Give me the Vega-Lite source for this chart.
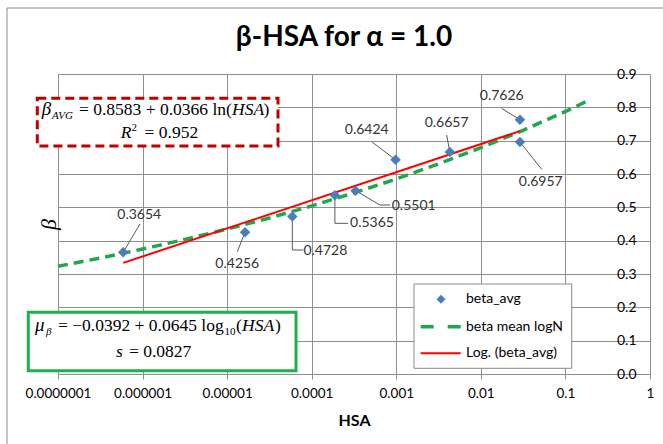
{
  "$schema": "https://vega.github.io/schema/vega-lite/v6.json",
  "width": 592,
  "height": 300,
  "autosize": "none",
  "padding": {"left": 58, "top": 74, "right": 13, "bottom": 70},
  "background": "white",
  "title": {"text": "β-HSA for α = 1.0", "font": "Lato", "fontSize": 28, "fontWeight": "bold", "color": "#000000", "anchor": "middle", "frame": "group", "dx": -10, "baseline": "alphabetic", "offset": -66.5},
  "config": {"view": {"stroke": null}},
  "datasets": {
    "points": [
      {"hsa": 5.9e-7, "beta": 0.3654, "label": "0.3654"},
      {"hsa": 1.63e-5, "beta": 0.4256, "label": "0.4256"},
      {"hsa": 5.9e-5, "beta": 0.4728, "label": "0.4728"},
      {"hsa": 1.88e-4, "beta": 0.5365, "label": "0.5365"},
      {"hsa": 3.3e-4, "beta": 0.5501, "label": "0.5501"},
      {"hsa": 9.8e-4, "beta": 0.6424, "label": "0.6424"},
      {"hsa": 4.3e-3, "beta": 0.6657, "label": "0.6657"},
      {"hsa": 0.029, "beta": 0.7626, "label": "0.7626"},
      {"hsa": 0.029, "beta": 0.6957, "label": "0.6957"}
    ],
    "labels": [
      {"hsa": 9.14e-7, "beta": 0.477, "label": "0.3654"},
      {"hsa": 1.318e-5, "beta": 0.329, "label": "0.4256"},
      {"hsa": 1.45e-4, "beta": 0.369, "label": "0.4728"},
      {"hsa": 5.16e-4, "beta": 0.452, "label": "0.5365"},
      {"hsa": 1.606e-3, "beta": 0.505, "label": "0.5501"},
      {"hsa": 4.47e-4, "beta": 0.732, "label": "0.6424"},
      {"hsa": 3.94e-3, "beta": 0.752, "label": "0.6657"},
      {"hsa": 0.01766, "beta": 0.834, "label": "0.7626"},
      {"hsa": 0.0511, "beta": 0.577, "label": "0.6957"}
    ],
    "leaders": [
      {"hsa": 5.9e-7, "beta": 0.3654, "hsa2": 9.33e-7, "beta2": 0.45},
      {"hsa": 1.63e-5, "beta": 0.4256, "hsa2": 1.318e-5, "beta2": 0.367},
      {"hsa": 5.9e-5, "beta": 0.4728, "hsa2": 5.9e-5, "beta2": 0.372},
      {"hsa": 5.9e-5, "beta": 0.372, "hsa2": 7.96e-5, "beta2": 0.372},
      {"hsa": 1.88e-4, "beta": 0.5365, "hsa2": 1.88e-4, "beta2": 0.452},
      {"hsa": 1.88e-4, "beta": 0.452, "hsa2": 2.69e-4, "beta2": 0.452},
      {"hsa": 3.3e-4, "beta": 0.5501, "hsa2": 6.41e-4, "beta2": 0.507},
      {"hsa": 6.41e-4, "beta": 0.507, "hsa2": 8.43e-4, "beta2": 0.507},
      {"hsa": 9.8e-4, "beta": 0.6424, "hsa2": 5.12e-4, "beta2": 0.697},
      {"hsa": 4.3e-3, "beta": 0.6657, "hsa2": 3.94e-3, "beta2": 0.717},
      {"hsa": 0.029, "beta": 0.7626, "hsa2": 0.01766, "beta2": 0.797},
      {"hsa": 0.029, "beta": 0.6957, "hsa2": 0.0525, "beta2": 0.614}
    ],
    "mean": [
      {"hsa": 1e-7, "beta": 0.3231},
      {"hsa": 3.162e-7, "beta": 0.348},
      {"hsa": 1e-6, "beta": 0.3748},
      {"hsa": 3.162e-6, "beta": 0.4037},
      {"hsa": 1e-5, "beta": 0.4349},
      {"hsa": 3.162e-5, "beta": 0.4682},
      {"hsa": 1e-4, "beta": 0.5044},
      {"hsa": 3.162e-4, "beta": 0.5432},
      {"hsa": 1e-3, "beta": 0.5852},
      {"hsa": 3.162e-3, "beta": 0.6303},
      {"hsa": 1e-2, "beta": 0.6789},
      {"hsa": 3.162e-2, "beta": 0.7312},
      {"hsa": 0.1, "beta": 0.7876},
      {"hsa": 0.2, "beta": 0.8241}
    ],
    "trend": [
      {"hsa": 5.9e-7, "beta": 0.3333},
      {"hsa": 0.029, "beta": 0.7287}
    ],
    "frame": [{"hsa": 2.494e-8, "beta": 1.098, "hsa2": 10, "beta2": -0.4}],
    "redbox": [{"hsa": 5.69e-8, "beta": 0.8271, "hsa2": 3.994e-5, "beta2": 0.684}],
    "greenbox": [{"hsa": 4.455e-8, "beta": 0.1851, "hsa2": 6.52e-5, "beta2": 0.0099}],
    "legendbox": [{"hsa": 1.6199e-3, "beta": 0.27, "hsa2": 0.11864, "beta2": 0.0171}],
    "legendpoint": [{"hsa": 3.3788e-3, "beta": 0.2241}],
    "legendgreen": [{"hsa": 1.9437e-3, "beta": 0.1419}, {"hsa": 5.7755e-3, "beta": 0.1419}],
    "legendred": [{"hsa": 1.9437e-3, "beta": 0.0621}, {"hsa": 5.7755e-3, "beta": 0.0621}],
    "legendtext": [
      {"hsa": 6.6731e-3, "beta": 0.2241, "label": "beta_avg"},
      {"hsa": 6.6731e-3, "beta": 0.1419, "label": "beta mean logN"},
      {"hsa": 6.6731e-3, "beta": 0.0621, "label": "Log. (beta_avg)"}
    ],
    "eqBigItalic": [
      {"hsa": 6.415e-8, "beta": 0.777, "label": "β"},
      {"hsa": 5.346e-8, "beta": 0.1299, "label": "μ"}
    ],
    "eqSmallItalic": [
      {"hsa": 8.494e-8, "beta": 0.765, "label": "AVG"},
      {"hsa": 7.212e-8, "beta": 0.117, "label": "β"}
    ],
    "eqUpright": [
      {"hsa": 1.7714e-7, "beta": 0.777, "label": "= 0.8583 + 0.0366 ln("},
      {"hsa": 2.6913e-5, "beta": 0.777, "label": ")"},
      {"hsa": 1.0568e-6, "beta": 0.7071, "label": "= 0.952"},
      {"hsa": 1e-7, "beta": 0.1299, "label": "= −0.0392 + 0.0645 log"},
      {"hsa": 1.2728e-5, "beta": 0.1299, "label": "("},
      {"hsa": 3.6809e-5, "beta": 0.1299, "label": ")"},
      {"hsa": 6.9107e-7, "beta": 0.0519, "label": "= 0.0827"}
    ],
    "eqItalic": [
      {"hsa": 1.1413e-5, "beta": 0.777, "label": "HSA"},
      {"hsa": 5.5125e-7, "beta": 0.7071, "label": "R"},
      {"hsa": 1.4985e-5, "beta": 0.1299, "label": "HSA"},
      {"hsa": 4.8517e-7, "beta": 0.0519, "label": "s"}
    ],
    "eqSmallUpright": [
      {"hsa": 7.3973e-7, "beta": 0.729, "label": "2"},
      {"hsa": 9.306e-6, "beta": 0.117, "label": "10"}
    ]
  },
  "encoding": {
    "x": {
      "field": "hsa", "type": "quantitative",
      "scale": {"type": "log", "domain": [1e-7, 1], "nice": false},
      "axis": {
        "title": "HSA", "values": [1e-7, 1e-6, 1e-5, 1e-4, 1e-3, 1e-2, 1e-1, 1], "format": ".7~f",
        "grid": true, "gridColor": "#8f8f8f", "gridWidth": 1, "domain": false,
        "ticks": true, "tickColor": "#8f8f8f", "tickSize": 5,
        "labelFont": "Lato", "labelFontSize": 13.5, "labelColor": "#000000", "labelBaseline": "alphabetic", "labelPadding": 18.5,
        "labelFlush": false, "labelOverlap": false, "labelBound": false,
        "titleFont": "Lato", "titleFontSize": 16, "titleFontWeight": "bold", "titleColor": "#000000",
        "titleBaseline": "alphabetic", "titleY": 51.7, "titleX": 296
      }
    },
    "y": {
      "field": "beta", "type": "quantitative",
      "scale": {"domain": [0, 0.9], "nice": false, "zero": false},
      "axis": {
        "orient": "right", "title": "β", "values": [0, 0.1, 0.2, 0.3, 0.4, 0.5, 0.6, 0.7, 0.8, 0.9], "format": ".1f",
        "grid": true, "gridColor": "#8f8f8f", "gridWidth": 1, "domain": false,
        "ticks": true, "tickSize": 0,
        "labelFont": "Lato", "labelFontSize": 14, "labelColor": "#000000", "labelAlign": "right", "labelBaseline": "middle", "labelPadding": -14,
        "labelFlush": false, "labelOverlap": false, "labelBound": false,
        "titleFont": "Liberation Serif", "titleFontStyle": "italic", "titleFontWeight": "normal", "titleFontSize": 22, "titleColor": "#000000",
        "titleAngle": 270, "titleX": -602, "titleY": 150, "titleAlign": "center", "titleBaseline": "middle"
      }
    }
  },
  "layer": [
    {"data": {"name": "frame"}, "mark": {"type": "rect", "filled": false, "color": "#8a8a8a", "strokeWidth": 1}, "encoding": {"x2": {"field": "hsa2"}, "y2": {"field": "beta2"}}},
    {"data": {"name": "greenbox"}, "mark": {"type": "rect", "fill": "white", "stroke": "#1daf50", "strokeWidth": 3}, "encoding": {"x2": {"field": "hsa2"}, "y2": {"field": "beta2"}}},
    {"data": {"name": "redbox"}, "mark": {"type": "rect", "fill": "white", "stroke": "#c00000", "strokeWidth": 3, "strokeDash": [9, 5]}, "encoding": {"x2": {"field": "hsa2"}, "y2": {"field": "beta2"}}},
    {"data": {"name": "mean"}, "mark": {"type": "line", "color": "#1ea84b", "strokeWidth": 3.5, "strokeDash": [10, 6]}},
    {"data": {"name": "trend"}, "mark": {"type": "line", "color": "#ff0000", "strokeWidth": 2}},
    {"data": {"name": "leaders"}, "mark": {"type": "rule", "color": "#595959", "strokeWidth": 1}, "encoding": {"x2": {"field": "hsa2"}, "y2": {"field": "beta2"}}},
    {"data": {"name": "points"}, "mark": {"type": "point", "shape": "diamond", "filled": true, "color": "#4a7ebb", "size": 110, "opacity": 1}},
    {"data": {"name": "labels"}, "mark": {"type": "text", "font": "Lato", "fontSize": 14, "color": "#333333", "align": "center", "baseline": "middle"}, "encoding": {"text": {"field": "label"}}},
    {"data": {"name": "legendbox"}, "mark": {"type": "rect", "fill": "white", "stroke": "#8a8a8a", "strokeWidth": 1}, "encoding": {"x2": {"field": "hsa2"}, "y2": {"field": "beta2"}}},
    {"data": {"name": "legendpoint"}, "mark": {"type": "point", "shape": "diamond", "filled": true, "color": "#4a7ebb", "size": 80, "opacity": 1}},
    {"data": {"name": "legendgreen"}, "mark": {"type": "line", "color": "#1ea84b", "strokeWidth": 3.5, "strokeDash": [13, 14]}},
    {"data": {"name": "legendred"}, "mark": {"type": "line", "color": "#ff0000", "strokeWidth": 2}},
    {"data": {"name": "legendtext"}, "mark": {"type": "text", "font": "Lato", "fontSize": 14, "color": "#000000", "align": "left", "baseline": "middle"}, "encoding": {"text": {"field": "label"}}},
    {"data": {"name": "eqBigItalic"}, "mark": {"type": "text", "font": "Liberation Serif", "fontStyle": "italic", "fontSize": 19, "color": "#000000", "align": "left", "baseline": "alphabetic"}, "encoding": {"text": {"field": "label"}}},
    {"data": {"name": "eqSmallItalic"}, "mark": {"type": "text", "font": "Liberation Serif", "fontStyle": "italic", "fontSize": 11, "color": "#000000", "align": "left", "baseline": "alphabetic"}, "encoding": {"text": {"field": "label"}}},
    {"data": {"name": "eqUpright"}, "mark": {"type": "text", "font": "Liberation Serif", "fontSize": 17.5, "color": "#000000", "align": "left", "baseline": "alphabetic"}, "encoding": {"text": {"field": "label"}}},
    {"data": {"name": "eqItalic"}, "mark": {"type": "text", "font": "Liberation Serif", "fontStyle": "italic", "fontSize": 17.5, "color": "#000000", "align": "left", "baseline": "alphabetic"}, "encoding": {"text": {"field": "label"}}},
    {"data": {"name": "eqSmallUpright"}, "mark": {"type": "text", "font": "Liberation Serif", "fontSize": 11, "color": "#000000", "align": "left", "baseline": "alphabetic"}, "encoding": {"text": {"field": "label"}}}
  ]
}
